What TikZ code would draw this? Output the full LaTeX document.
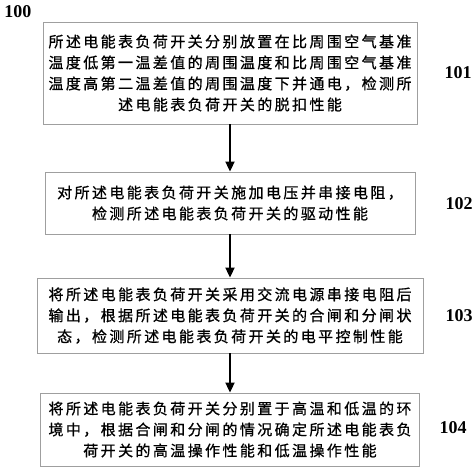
\documentclass[tikz,border=0pt]{standalone}
\usepackage{fontspec}
\setmainfont{Liberation Serif}
\newfontfamily\cjk[LetterSpace=16,FakeBold=0.8]{Noto Sans CJK SC}
\usetikzlibrary{arrows.meta}

\begin{document}
\begin{tikzpicture}[x=1pt,y=-1pt,
    stepbox/.style={draw=gray!75,line width=0.9pt,align=center,inner sep=0pt,
        font=\cjk\fontsize{15}{21}\selectfont},
    num/.style={font=\bfseries\fontsize{18}{18}\selectfont},
    flow/.style={-{Triangle[length=10pt,width=9pt]},line width=2pt}]
    \useasboundingbox (0,0) rectangle (474,468);
    \node [stepbox,minimum width=374,minimum height=102] (s101) at (230,73)
        {所述电能表负荷开关分别放置在比周围空气基准\\温度低第一温差值的周围温度和比周围空气基准\\温度高第二温差值的周围温度下并通电，检测所\\述电能表负荷开关的脱扣性能};
    \node [stepbox,minimum width=370,minimum height=62] (s102) at (230,203)
        {对所述电能表负荷开关施加电压并串接电阻，\\检测所述电能表负荷开关的驱动性能};
    \node [stepbox,minimum width=386,minimum height=75] (s103) at (230,315.5)
        {将所述电能表负荷开关采用交流电源串接电阻后\\输出，根据所述电能表负荷开关的合闸和分闸状\\态，检测所述电能表负荷开关的电平控制性能};
    \node [stepbox,minimum width=379,minimum height=73] (s104) at (230,429.5)
        {将所述电能表负荷开关分别置于高温和低温的环\\境中，根据合闸和分闸的情况确定所述电能表负\\荷开关的高温操作性能和低温操作性能};
    \node [num] (n100) at (18,12) {100};
    \node [num] (n101) at (458,73) {101};
    \node [num] (n102) at (459,204) {102};
    \node [num] (n103) at (459,316) {103};
    \node [num] (n104) at (453,428) {104};
    \draw [flow] (s101) -- (s102);
    \draw [flow] (s102) -- (s103);
    \draw [flow] (s103) -- (s104);
\end{tikzpicture}
\end{document}
